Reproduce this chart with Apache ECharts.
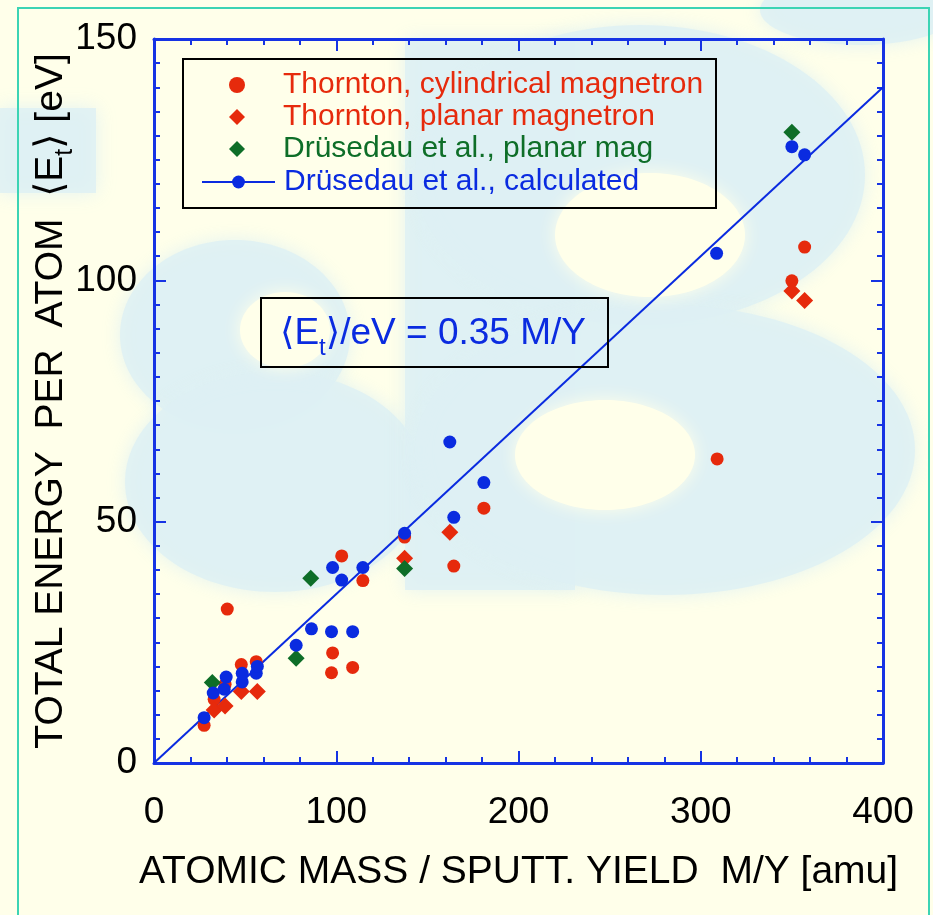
<!DOCTYPE html>
<html>
<head>
<meta charset="utf-8">
<title>Total energy per atom vs M/Y</title>
<script src="https://cdn.jsdelivr.net/npm/echarts@6/dist/echarts.min.js"></script>
<style>
  html, body { margin: 0; padding: 0; background: #FFFFEA; }
  #chart { width: 933px; height: 915px; }
</style>
</head>
<body>
<div id="chart"></div>
<script>
// Measured points: [M/Y in amu, <E_t> in eV]
const thorntonCyl = [
  [27.5, 7.8], [33, 13.2], [39, 16.3], [40.2, 31.9], [47.9, 20.4], [56.1, 21.0],
  [97.4, 18.7], [98, 22.8], [103, 42.9], [109, 19.8], [114.6, 37.8], [137.5, 46.8],
  [164.5, 40.8], [181, 52.8], [309, 63.0], [350, 99.9], [357, 106.9]
];
const thorntonPlanar = [
  [33, 11.0], [39, 11.8], [47.9, 14.8], [56.7, 14.8], [137.5, 42.4], [162.3, 47.8],
  [350, 97.8], [357, 95.8]
];
const drusedauPlanar = [
  [32, 16.7], [78, 21.7], [86, 38.3], [137.5, 40.3], [350, 130.7]
];
const drusedauCalc = [
  [27.5, 9.4], [32.5, 14.5], [38.5, 15.3], [39.6, 17.8], [48.4, 16.8], [48.4, 18.6],
  [56.1, 18.6], [56.7, 20.0], [78, 24.4], [86.4, 27.8], [97.4, 27.2], [109, 27.2],
  [98, 40.5], [103, 37.9], [114.6, 40.5], [137.5, 47.6], [162.3, 66.5], [164.5, 50.9],
  [181, 58.1], [308.7, 105.6], [350, 127.7], [357, 126.0]
];

// Proportional fit <E_t>/eV = slope * M/Y
const slope = 0.35;
const fitRange = [0, 400];

const seriesNames = [
  'Thornton, cylindrical magnetron',
  'Thornton, planar magnetron',
  'Drüsedau et al., planar mag',
  'Drüsedau et al., calculated'
];
const xTicks = { min: 0, max: 400, step: 100 };
const yTicks = { min: 0, max: 150, step: 50 };

const RED = '#E62A0C';
const GREEN = '#0E6E28';
const BLUE = '#0A2BE0';
const AXIS = '#1633E4';
const PAPER = '#FFFFEA';
const WASH = '#DDF0F4';
const FONT = '"Liberation Sans", Arial, Helvetica, "DejaVu Sans", sans-serif';

const fitLine = fitRange.map(x => [x, +(slope * x).toFixed(4)]);

const chart = echarts.init(document.getElementById('chart'), null, { renderer: 'canvas' });

function axisX(pos, showLabel) {
  return {
    type: 'value', position: pos, min: xTicks.min, max: xTicks.max, interval: xTicks.step,
    axisLine: { show: true, onZero: false, lineStyle: { color: AXIS, width: 3 } },
    axisTick: { show: true, inside: true, length: 12, lineStyle: { color: AXIS, width: 2 } },
    minorTick: { show: true, splitNumber: 5, length: 6, lineStyle: { color: AXIS, width: 2 } },
    splitLine: { show: false },
    axisLabel: { show: showLabel, color: '#000', fontSize: 37, fontFamily: FONT, margin: 31 },
  };
}
function axisY(pos, showLabel) {
  return {
    type: 'value', position: pos, min: yTicks.min, max: yTicks.max, interval: yTicks.step,
    axisLine: { show: true, onZero: false, lineStyle: { color: AXIS, width: 3 } },
    axisTick: { show: true, inside: true, length: 12, lineStyle: { color: AXIS, width: 2 } },
    minorTick: { show: true, splitNumber: 10, length: 6, lineStyle: { color: AXIS, width: 2 } },
    splitLine: { show: false },
    axisLabel: { show: showLabel, color: '#000', fontSize: 37, fontFamily: FONT, margin: 17 },
  };
}

const xMain = axisX('bottom', true);
xMain.name = 'ATOMIC MASS / SPUTT. YIELD  M/Y [amu]';
xMain.nameLocation = 'middle';
xMain.nameGap = 90;
xMain.nameMoveOverlap = false;
xMain.nameTextStyle = { color: '#000', fontSize: 39, fontFamily: FONT };

const yMain = axisY('left', true);
yMain.name = '{a|TOTAL ENERGY  PER  ATOM  \u27E8E}{s|t}{a|\u27E9 [eV]}';
yMain.nameLocation = 'middle';
yMain.nameGap = 81;
yMain.nameRotate = 90;
yMain.nameMoveOverlap = false;
yMain.nameTextStyle = {
  color: '#000', fontSize: 39, fontFamily: FONT,
  rich: {
    a: { color: '#000', fontSize: 39, fontFamily: FONT, lineHeight: 41, verticalAlign: 'top' },
    s: { color: '#000', fontSize: 25, fontFamily: FONT, lineHeight: 25, verticalAlign: 'top', padding: [21, 0, 0, 0] }
  }
};

// faint "&B" emblem printed behind the plot, with soft edges
function wash(shape, type, fill, z) {
  return { type: type, z: z, silent: true, shape: shape,
           style: { fill: fill, stroke: null, opacity: 0.8, shadowBlur: 18, shadowColor: fill } };
}
const emblem = [
  wash({ x: 0, y: 108, width: 96, height: 85 }, 'rect', WASH, -10),
  // ampersand
  wash({ cx: 235, cy: 335, rx: 115, ry: 95 }, 'ellipse', WASH, -10),
  wash({ cx: 275, cy: 482, rx: 150, ry: 110 }, 'ellipse', WASH, -10),
  // letter B
  wash({ x: 405, y: 40, width: 170, height: 550 }, 'rect', WASH, -10),
  wash({ cx: 640, cy: 175, rx: 225, ry: 150 }, 'ellipse', WASH, -10),
  wash({ cx: 665, cy: 450, rx: 250, ry: 145 }, 'ellipse', WASH, -10),
  wash({ cx: 860, cy: 10, rx: 100, ry: 35 }, 'ellipse', WASH, -10),
  // counters
  wash({ cx: 285, cy: 330, rx: 45, ry: 38 }, 'ellipse', PAPER, -9),
  wash({ cx: 650, cy: 235, rx: 95, ry: 62 }, 'ellipse', PAPER, -9),
  wash({ cx: 605, cy: 455, rx: 90, ry: 55 }, 'ellipse', PAPER, -9)
];
emblem.slice(7).forEach(e => { e.style.opacity = 1; });

const option = {
  backgroundColor: PAPER,
  animation: false,
  grid: { left: 154, right: 50, top: 39, bottom: 152, containLabel: false },
  xAxis: [xMain, axisX('top', false)],
  yAxis: [yMain, axisY('right', false)],
  legend: [
    {
      orient: 'vertical', left: 229, top: 70, padding: 0,
      itemWidth: 16, itemHeight: 16, itemGap: 2,
      textStyle: { fontSize: 30, fontFamily: FONT, lineHeight: 30, padding: [0, 0, 0, 33] },
      data: [
        { name: seriesNames[0], textStyle: { color: RED } },
        { name: seriesNames[1], textStyle: { color: RED } },
        { name: seriesNames[2], textStyle: { color: GREEN } }
      ],
      selectedMode: false
    },
    {
      orient: 'vertical', left: 201, top: 167, padding: 0,
      itemWidth: 73, itemHeight: 16,
      textStyle: { fontSize: 30, fontFamily: FONT, lineHeight: 30, padding: [0, 0, 0, 4] },
      data: [{ name: seriesNames[3], textStyle: { color: BLUE } }],
      selectedMode: false
    }
  ],
  graphic: emblem.concat([
    // outer frame
    { type: 'rect', z: 0, shape: { x: 18, y: 8, width: 911, height: 930 },
      style: { fill: null, stroke: '#3CD4B4', lineWidth: 2 } },
    // legend box
    { type: 'rect', z: 10, shape: { x: 183, y: 59, width: 533, height: 149 },
      style: { fill: null, stroke: '#000', lineWidth: 2 } },
    // fit equation box
    { type: 'rect', z: 10, shape: { x: 261, y: 298, width: 347, height: 69 },
      style: { fill: null, stroke: '#000', lineWidth: 2 } },
    { type: 'text', z: 10, x: 280, y: 334,
      style: {
        text: '{a|\u27E8E}{s|t}{a|\u27E9/eV = ' + slope.toFixed(2) + ' M/Y}',
        verticalAlign: 'middle', fill: BLUE, fontSize: 37, fontFamily: FONT,
        rich: {
          a: { fill: BLUE, fontSize: 37, fontFamily: FONT, lineHeight: 38, verticalAlign: 'top' },
          s: { fill: BLUE, fontSize: 24, fontFamily: FONT, lineHeight: 24, verticalAlign: 'top', padding: [21, 0, 0, 0] }
        }
      } }
  ]),
  series: [
    { name: seriesNames[3], type: 'line', data: fitLine, symbol: 'circle', showSymbol: false,
      lineStyle: { color: BLUE, width: 2 }, itemStyle: { color: BLUE }, z: 2, silent: true },
    { name: seriesNames[0], type: 'scatter', data: thorntonCyl, symbol: 'circle', symbolSize: 13,
      itemStyle: { color: RED, opacity: 1 }, z: 3 },
    { name: seriesNames[1], type: 'scatter', data: thorntonPlanar, symbol: 'diamond', symbolSize: 17,
      itemStyle: { color: RED, opacity: 1 }, z: 4 },
    { name: seriesNames[2], type: 'scatter', data: drusedauPlanar, symbol: 'diamond', symbolSize: 17,
      itemStyle: { color: GREEN, opacity: 1 }, z: 5 },
    { name: seriesNames[3], type: 'scatter', data: drusedauCalc, symbol: 'circle', symbolSize: 13,
      itemStyle: { color: BLUE, opacity: 1 }, z: 6 }
  ]
};

chart.setOption(option);
</script>
</body>
</html>
